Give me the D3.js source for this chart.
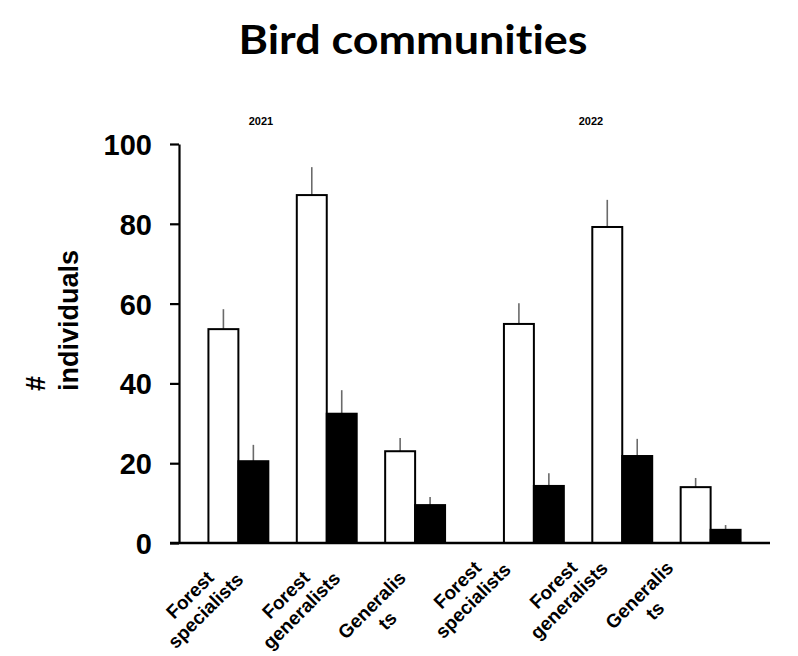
<!DOCTYPE html>
<html>
<head>
<meta charset="utf-8">
<script src="https://cdn.jsdelivr.net/npm/d3@7"></script>
<style>
  html, body { margin: 0; padding: 0; background: #fff; }
  svg text { font-family: "Liberation Sans", Arial, sans-serif; font-weight: bold; fill: #000; }
</style>
</head>
<body>
<div id="chart"></div>
<script>
const years = ['2021', '2022'];
const classes = ['Forest specialists', 'Forest generalists', 'Generalists'];
const classLines = [['Forest', 'specialists'], ['Forest', 'generalists'], ['Generalis', 'ts']];
const seriesKeys = ['open', 'filled'];

// mean number of individuals and SE
const open2021 = [53.6, 87.2, 23.0];
const openSE2021 = [5.0, 7.0, 3.3];
const filled2021 = [20.5, 32.4, 9.5];
const filledSE2021 = [4.1, 5.9, 2.0];
const open2022 = [54.9, 79.2, 14.0];
const openSE2022 = [5.2, 6.8, 2.3];
const filled2022 = [14.3, 21.8, 3.3];
const filledSE2022 = [3.2, 4.3, 1.2];

const yTicks = [0, 20, 40, 60, 80, 100];
const title = 'Bird communities';
const yTitle = ['#', 'individuals'];

const width = 798, height = 656;
const svg = d3.select('#chart').append('svg')
  .attr('width', width).attr('height', height)
  .attr('viewBox', `0 0 ${width} ${height}`);

const y = d3.scaleLinear().domain([0, 100]).range([543, 144]);
const yearX = d3.scaleBand().domain(years).range([179, 770]);
const classX = d3.scaleBand().domain(classes).range([0, yearX.bandwidth()])
  .paddingInner(0.322).paddingOuter(0.333);
const seriesX = d3.scaleBand().domain(seriesKeys).range([0, classX.bandwidth()]);

const table = {
  '2021': { open: [open2021, openSE2021], filled: [filled2021, filledSE2021] },
  '2022': { open: [open2022, openSE2022], filled: [filled2022, filledSE2022] },
};
const bars = [];
years.forEach(yr => classes.forEach((c, i) => seriesKeys.forEach(s => {
  bars.push({ year: yr, cls: c, series: s, value: table[yr][s][0][i], se: table[yr][s][1][i] });
})));
const barX = d => yearX(d.year) + classX(d.cls) + seriesX(d.series);

// title
svg.append('text')
  .attr('x', 413).attr('y', 54)
  .attr('text-anchor', 'middle')
  .attr('textLength', 349).attr('lengthAdjust', 'spacingAndGlyphs')
  .style('font-family', 'Lato, "Open Sans", sans-serif')
  .style('font-variant-ligatures', 'none')
  .style('font-size', '41px')
  .text(title);

// year labels
const yearLabelDx = { '2021': 82, '2022': 116.5 };
svg.selectAll('text.year').data(years).join('text')
  .attr('class', 'year')
  .attr('x', d => yearX(d) + yearLabelDx[d]).attr('y', 125)
  .attr('text-anchor', 'middle')
  .style('font-size', '11px')
  .text(d => d);

// error bars (upper half only, no caps)
svg.selectAll('line.err').data(bars).join('line')
  .attr('class', 'err')
  .attr('x1', d => barX(d) + seriesX.bandwidth() / 2)
  .attr('x2', d => barX(d) + seriesX.bandwidth() / 2)
  .attr('y1', d => y(d.value)).attr('y2', d => y(d.value + d.se))
  .attr('stroke', '#6a6a6a').attr('stroke-width', 1.6);

// bars
svg.selectAll('rect.bar').data(bars).join('rect')
  .attr('class', 'bar')
  .attr('x', barX)
  .attr('y', d => y(d.value))
  .attr('width', seriesX.bandwidth())
  .attr('height', d => y(0) - y(d.value))
  .attr('fill', d => d.series === 'open' ? '#fff' : '#000')
  .attr('stroke', '#000').attr('stroke-width', 2);

// y axis
const yAxisG = svg.append('g')
  .attr('transform', `translate(${yearX.range()[0]},0)`)
  .call(d3.axisLeft(y).tickValues(yTicks).tickSize(9).tickSizeOuter(0).tickPadding(18));
yAxisG.select('.domain').attr('stroke', '#000').attr('stroke-width', 2.2);
yAxisG.selectAll('.tick line').attr('stroke', '#000').attr('stroke-width', 2.2);
yAxisG.selectAll('.tick text')
  .attr('fill', '#000')
  .style('font-family', '"Liberation Sans", Arial, sans-serif')
  .style('font-weight', 'bold')
  .style('font-size', '29px')
  .attr('dy', '0.36em');

// x axis line
svg.append('line')
  .attr('x1', yearX.range()[0] - 9).attr('x2', yearX.range()[1])
  .attr('y1', y(0)).attr('y2', y(0))
  .attr('stroke', '#000').attr('stroke-width', 2.6);

// y axis title
const yt = svg.append('text')
  .attr('transform', 'translate(45,391) rotate(-90)')
  .attr('text-anchor', 'start')
  .style('font-size', '27px');
yt.selectAll('tspan').data(yTitle).join('tspan')
  .attr('x', 0).attr('y', (d, i) => i * 33)
  .text(d => d);

// category labels, rotated -45deg; first line ends at the anchor, second centred under it
const labelPt = d3.scalePoint().domain(classes).range([0, 192]);
const labelNudge = { '2021': { dx: 36, dy: 36 }, '2022': { dx: 8, dy: 26 } };
const labelData = [];
years.forEach(yr => classes.forEach((c, i) => labelData.push({ year: yr, cls: c, lines: classLines[i] })));
const labG = svg.append('g').attr('class', 'xlabels');
labelData.forEach(d => {
  const ax = yearX(d.year) + labelPt(d.cls) + labelNudge[d.year].dx;
  const ay = y(0) + labelNudge[d.year].dy;
  const rot = `translate(${ax},${ay}) rotate(-45)`;
  const t1 = labG.append('text')
    .attr('transform', rot)
    .attr('text-anchor', 'end')
    .style('font-size', '19px')
    .text(d.lines[0]);
  const w1 = t1.node().getComputedTextLength();
  labG.append('text')
    .attr('transform', rot)
    .attr('text-anchor', 'middle')
    .attr('x', -w1 / 2).attr('y', 22)
    .style('font-size', '19px')
    .text(d.lines[1]);
});
</script>
</body>
</html>
